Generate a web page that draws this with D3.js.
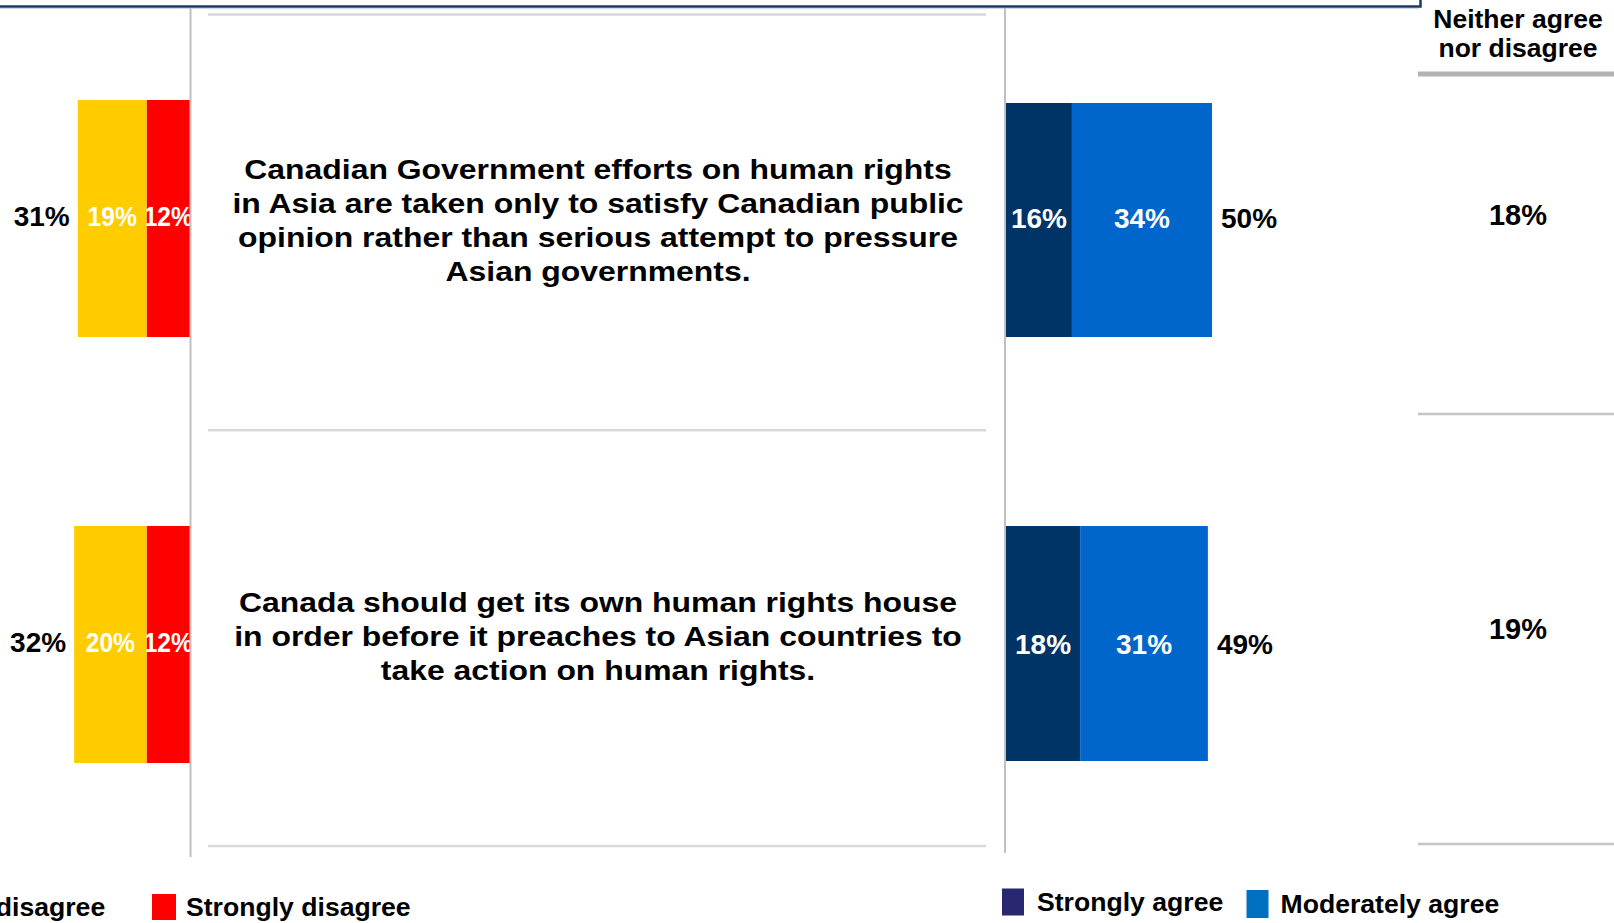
<!DOCTYPE html>
<html>
<head>
<meta charset="utf-8">
<script src="https://cdn.jsdelivr.net/npm/d3@7/dist/d3.min.js"></script>
<style>
  html, body { margin: 0; padding: 0; background: #ffffff; overflow: hidden; }
  svg { display: block; font-family: "Liberation Sans", Arial, Helvetica, sans-serif; font-weight: bold; }
</style>
</head>
<body>
<svg id="chart" width="1614" height="923"></svg>
<script>
// Survey statements (one row each)
const questions = ["q1", "q2"];
const questionLines = [
  ["Canadian Government efforts on human rights",
   "in Asia are taken only to satisfy Canadian public",
   "opinion rather than serious attempt to pressure",
   "Asian governments."],
  ["Canada should get its own human rights house",
   "in order before it preaches to Asian countries to",
   "take action on human rights."]
];

// Disagree side (percent)
const stronglyDisagree   = [12, 12];
const moderatelyDisagree = [19, 20];
const totalDisagree      = [31, 32];

// Agree side (percent)
const stronglyAgree   = [16, 18];
const moderatelyAgree = [34, 31];
const totalAgree      = [50, 49];

// Neutral column
const neitherHeader = ["Neither agree", "nor disagree"];
const neither = [18, 19];

// Legend entries
const disagreeLegend = ["Moderately disagree", "Strongly disagree"];
const agreeLegend    = ["Strongly agree", "Moderately agree"];

const colors = {
  moderatelyDisagree: "#ffcc00",
  stronglyDisagree: "#ff0000",
  stronglyAgree: "#003366",
  moderatelyAgree: "#0066cc",
  legendStrongAgree: "#28286e",
  legendModerateAgree: "#0070c0"
};

const svg = d3.select("#chart");
const pctFont = 28;
const fmt = v => v + "%";

// ---- scales ----
const rowY = d3.scalePoint().domain(questions).range([218.5, 644.5]);
const barH = 237;
const xLeft  = d3.scaleLinear().domain([0, 100]).range([190, 190 - 362]);
const xRight = d3.scaleLinear().domain([0, 100]).range([1006, 1418]);
const panelY = d3.scaleBand().domain(questions).range([14.4, 846]);
const neitherY = d3.scalePoint().domain(questions).range([215, 629]);
const neitherCells = d3.scaleBand().domain(questions).range([-16, 844]);

// ---- frame line along the top ----
svg.append("path")
  .attr("d", "M0,6.5H1420.5V0")
  .attr("fill", "none")
  .attr("stroke", "#1c3a66")
  .attr("stroke-width", 2.5);
svg.append("line")
  .attr("x1", 0).attr("x2", 1419).attr("y1", 8.6).attr("y2", 8.6)
  .attr("stroke", "#c9d6e8").attr("stroke-width", 1);

// ---- disagree bars (stacked leftwards from the centre panel) ----
const leftRows = questions.map((q, i) => ({
  q, stronglyDisagree: stronglyDisagree[i], moderatelyDisagree: moderatelyDisagree[i]
}));
const leftStack = d3.stack().keys(["stronglyDisagree", "moderatelyDisagree"])(leftRows);

svg.append("clipPath").attr("id", "leftClip")
  .append("rect").attr("x", 0).attr("y", 0)
  .attr("width", xLeft(0)).attr("height", 923);

const leftG = svg.append("g").attr("clip-path", "url(#leftClip)");
leftStack.forEach(layer => {
  const g = leftG.append("g");
  g.selectAll("rect").data(layer).join("rect")
    .attr("x", d => xLeft(d[1]))
    .attr("width", d => xLeft(d[0]) - xLeft(d[1]))
    .attr("y", d => rowY(d.data.q) - barH / 2)
    .attr("height", barH)
    .attr("fill", colors[layer.key]);
  g.selectAll("text").data(layer).join("text")
    .attr("transform", d => `translate(${(xLeft(d[0]) + xLeft(d[1])) / 2},${rowY(d.data.q) - 2}) scale(0.88,1)`)
    .attr("text-anchor", "middle")
    .attr("dy", "0.35em")
    .attr("font-size", pctFont)
    .attr("fill", "#ffffff")
    .text(d => fmt(d.data[layer.key]));
});
svg.append("g").selectAll("text").data(questions).join("text")
  .attr("x", (q, i) => xLeft(stronglyDisagree[i] + moderatelyDisagree[i]) - 8)
  .attr("y", q => rowY(q) - 2)
  .attr("dy", "0.35em")
  .attr("text-anchor", "end")
  .attr("font-size", pctFont)
  .attr("fill", "#000000")
  .text((q, i) => fmt(totalDisagree[i]));

// ---- agree bars (stacked rightwards) ----
const rightRows = questions.map((q, i) => ({
  q, stronglyAgree: stronglyAgree[i], moderatelyAgree: moderatelyAgree[i]
}));
const rightStack = d3.stack().keys(["stronglyAgree", "moderatelyAgree"])(rightRows);
rightStack.forEach(layer => {
  const g = svg.append("g");
  g.selectAll("rect").data(layer).join("rect")
    .attr("x", d => xRight(d[0]))
    .attr("width", d => xRight(d[1]) - xRight(d[0]))
    .attr("y", (d, i) => rowY(d.data.q) - barH / 2 + (i === 0 ? 3 : 0))
    .attr("height", (d, i) => barH - (i === 0 ? 3 : 2))
    .attr("fill", colors[layer.key]);
  g.selectAll("text").data(layer).join("text")
    .attr("x", d => (xRight(d[0]) + xRight(d[1])) / 2)
    .attr("y", d => rowY(d.data.q))
    .attr("dy", "0.35em")
    .attr("text-anchor", "middle")
    .attr("font-size", pctFont)
    .attr("fill", "#ffffff")
    .text(d => fmt(d.data[layer.key]));
});
svg.append("g").selectAll("text").data(questions).join("text")
  .attr("x", (q, i) => xRight(stronglyAgree[i] + moderatelyAgree[i]) + 9)
  .attr("y", q => rowY(q))
  .attr("dy", "0.35em")
  .attr("text-anchor", "start")
  .attr("font-size", pctFont)
  .attr("fill", "#000000")
  .text((q, i) => fmt(totalAgree[i]));

// ---- centre panel: dividers and statements ----
const panel = svg.append("g");
panel.append("line")
  .attr("x1", xLeft(0) + 0.5).attr("x2", xLeft(0) + 0.5)
  .attr("y1", 8).attr("y2", 857)
  .attr("stroke", "#c0c0c0").attr("stroke-width", 2);
panel.append("line")
  .attr("x1", xRight(0) - 1).attr("x2", xRight(0) - 1)
  .attr("y1", 8).attr("y2", 853)
  .attr("stroke", "#c0c0c0").attr("stroke-width", 2);

const sepYs = [panelY(questions[0])].concat(questions.map(q => panelY(q) + panelY.bandwidth()));
panel.selectAll("line.sep").data(sepYs).join("line")
  .attr("class", "sep")
  .attr("x1", 208).attr("x2", 986)
  .attr("y1", d => d).attr("y2", d => d)
  .attr("stroke", "#d9d9d9").attr("stroke-width", 2.5);

const lineH = 34.2;
const textCx = (xLeft(0) + xRight(0)) / 2;
questions.forEach((q, i) => {
  const lines = questionLines[i];
  const cy = panelY(q) + panelY.bandwidth() / 2 - 2;
  panel.append("g").selectAll("text").data(lines).join("text")
    .attr("transform", (d, j) => `translate(${textCx},${cy + (j - (lines.length - 1) / 2) * lineH}) scale(1.14,1)`)
    .attr("dy", "0.35em")
    .attr("text-anchor", "middle")
    .attr("font-size", 28)
    .attr("fill", "#000000")
    .text(d => d);
});

// ---- neutral column ----
const nCol = svg.append("g");
const nCx = 1518;
nCol.selectAll("text.head").data(neitherHeader).join("text")
  .attr("class", "head")
  .attr("x", nCx)
  .attr("y", (d, j) => 18.5 + j * 28.8)
  .attr("dy", "0.35em")
  .attr("text-anchor", "middle")
  .attr("font-size", 26.5)
  .attr("fill", "#000000")
  .text(d => d);
nCol.append("line")
  .attr("x1", 1418).attr("x2", 1614).attr("y1", 74).attr("y2", 74)
  .attr("stroke", "#b3b3b3").attr("stroke-width", 5);
nCol.selectAll("line.cell").data(questions).join("line")
  .attr("class", "cell")
  .attr("x1", 1418).attr("x2", 1614)
  .attr("y1", q => neitherCells(q) + neitherCells.bandwidth())
  .attr("y2", q => neitherCells(q) + neitherCells.bandwidth())
  .attr("stroke", "#c4c4c4").attr("stroke-width", 2.5);
nCol.selectAll("text.val").data(questions).join("text")
  .attr("class", "val")
  .attr("x", nCx)
  .attr("y", q => neitherY(q))
  .attr("dy", "0.35em")
  .attr("text-anchor", "middle")
  .attr("font-size", 29)
  .attr("fill", "#000000")
  .text((q, i) => fmt(neither[i]));

// ---- legends ----
function legendItem(x, cy, w, h, color, label, gap) {
  const g = svg.append("g");
  g.append("rect")
    .attr("x", x).attr("y", cy - h / 2)
    .attr("width", w).attr("height", h)
    .attr("fill", color);
  g.append("text")
    .attr("x", x + w + gap).attr("y", cy)
    .attr("dy", "0.35em")
    .attr("font-size", 26.6)
    .attr("fill", "#000000")
    .text(label);
}
legendItem(-190, 907, 24, 26, colors.moderatelyDisagree, disagreeLegend[0], 14);
legendItem(152, 907, 24, 26, colors.stronglyDisagree, disagreeLegend[1], 10);
legendItem(1002, 902, 22, 27, colors.legendStrongAgree, agreeLegend[0], 13);
legendItem(1246.5, 904, 22, 28, colors.legendModerateAgree, agreeLegend[1], 12);
</script>
</body>
</html>
